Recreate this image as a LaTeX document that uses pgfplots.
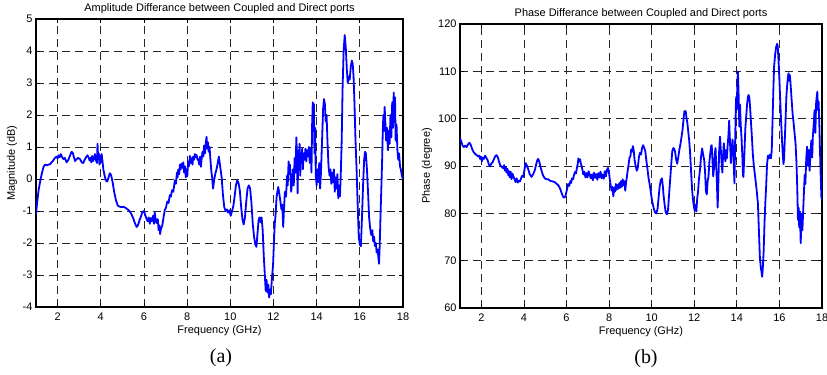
\documentclass[border=0pt]{standalone}
\usepackage{pgfplots}
\pgfplotsset{compat=1.18}
\usepackage{fontspec}
\setmainfont{Liberation Sans}
\newfontfamily\timesfont{Liberation Serif}
\definecolor{mblue}{RGB}{0,0,255}
\pgfplotsset{
  mstyle/.style={
    scale only axis,
    xmin=1, xmax=18,
    xtick={2,4,...,18},
    tick align=inside,
    major tick length=4bp,
    grid=major,
    major grid style={dash pattern=on 8bp off 5bp, black!85, line width=0.7bp},
    axis line style={line width=1.2bp, black},
    tick style={black, line width=0.7bp},
    /pgf/number format/assume math mode=true,
    tick label style={font=\fontsize{11}{13}\selectfont},
    xticklabel style={yshift=-2.5bp},
    label style={font=\fontsize{11}{13}\selectfont},
    title style={font=\fontsize{11}{13}\selectfont, at={(0.5,1)}, anchor=south, yshift=-1bp, inner sep=0pt},
    xlabel style={at={(axis description cs:0.5,0)}, anchor=center, yshift=-24bp},
    xlabel={Frequency (GHz)},
  }
}
\begin{document}
\begin{tikzpicture}
\useasboundingbox (0,0) rectangle (827bp,375bp);
\begin{axis}[mstyle,
  at={(36bp,68bp)}, anchor=south west,
  width=367bp, height=288bp,
  ymin=-4, ymax=5, ytick={-4,-3,...,5},
  title={Amplitude Differance between Coupled and Direct ports},
  ylabel={Magnitude (dB)},
  ylabel style={at={(axis description cs:0,0.5)}, anchor=center, yshift=24bp},
]
\addplot[mblue, line width=1.8bp, line join=round] coordinates {
(1.00,-1.10) (1.05,-0.75) (1.12,-0.35) (1.20,-0.05) (1.28,0.20) (1.35,0.38) (1.42,0.45) (1.50,0.43) (1.58,0.45) (1.65,0.46)
(1.72,0.52) (1.80,0.58) (1.88,0.66) (1.95,0.70) (2.00,0.64) (2.05,0.74) (2.10,0.68) (2.15,0.78) (2.20,0.70) (2.27,0.62)
(2.33,0.66) (2.42,0.52) (2.50,0.60) (2.58,0.74) (2.65,0.85) (2.70,0.82) (2.75,0.70) (2.81,0.56) (2.88,0.62) (2.95,0.66)
(3.04,0.62) (3.12,0.52) (3.19,0.50) (3.25,0.60) (3.32,0.68) (3.38,0.74) (3.42,0.70) (3.48,0.58) (3.52,0.66) (3.56,0.52)
(3.60,0.72) (3.64,0.56) (3.68,0.62) (3.73,0.78) (3.78,0.58) (3.82,0.50) (3.85,1.10) (3.88,0.62) (3.91,0.80) (3.94,0.45)
(3.97,0.72) (4.01,0.52) (4.04,0.78) (4.08,0.55) (4.12,0.30) (4.18,0.10) (4.24,-0.05) (4.30,-0.08) (4.36,0.05) (4.42,0.18)
(4.48,0.12) (4.55,-0.10) (4.62,-0.40) (4.70,-0.65) (4.78,-0.82) (4.85,-0.86) (4.95,-0.88) (5.05,-0.87) (5.15,-0.90) (5.25,-0.95)
(5.33,-1.00) (5.42,-1.10) (5.50,-1.22) (5.58,-1.38) (5.66,-1.50) (5.72,-1.45) (5.80,-1.28) (5.86,-1.18) (5.92,-1.05) (6.00,-1.00)
(6.06,-1.12) (6.12,-1.25) (6.17,-1.32) (6.22,-1.20) (6.27,-1.40) (6.32,-1.22) (6.37,-1.32) (6.42,-1.15) (6.47,-1.40) (6.50,-1.05)
(6.55,-1.30) (6.60,-1.38) (6.64,-1.25) (6.68,-1.60) (6.72,-1.45) (6.75,-1.72) (6.79,-1.55) (6.85,-1.45) (6.92,-1.15) (6.97,-0.96)
(7.02,-0.90) (7.08,-0.70) (7.14,-0.75) (7.20,-0.50) (7.25,-0.55) (7.30,-0.35) (7.36,-0.40) (7.43,-0.05) (7.48,-0.15) (7.53,0.20)
(7.56,0.05) (7.59,0.30) (7.63,0.15) (7.67,0.45) (7.70,0.30) (7.74,0.48) (7.78,0.35) (7.82,0.52) (7.86,0.20) (7.90,0.40)
(7.94,0.05) (7.97,0.30) (8.01,0.10) (8.05,0.55) (8.09,0.40) (8.13,0.72) (8.17,0.50) (8.21,0.65) (8.25,0.45) (8.28,0.70)
(8.32,0.60) (8.36,0.78) (8.40,0.68) (8.44,0.75) (8.48,0.60) (8.52,0.62) (8.56,0.45) (8.60,0.70) (8.64,0.38) (8.67,0.60)
(8.71,0.85) (8.75,0.70) (8.79,1.05) (8.83,0.80) (8.87,1.15) (8.90,1.32) (8.93,0.95) (8.96,1.15) (9.00,0.85) (9.04,1.00)
(9.08,0.60) (9.12,0.25) (9.16,0.05) (9.20,-0.30) (9.25,-0.05) (9.30,0.15) (9.36,0.30) (9.42,0.50) (9.47,0.70) (9.50,0.55)
(9.55,0.30) (9.60,0.05) (9.66,-0.50) (9.72,-0.88) (9.78,-1.00) (9.84,-0.95) (9.90,-1.05) (9.96,-0.98) (10.02,-1.15) (10.08,-1.00)
(10.14,-0.85) (10.20,-0.55) (10.26,-0.20) (10.32,-0.05) (10.38,-0.12) (10.44,-0.35) (10.50,-0.85) (10.56,-1.25) (10.62,-1.42) (10.68,-1.20)
(10.74,-0.70) (10.80,-0.30) (10.86,-0.20) (10.92,-0.30) (10.98,-0.75) (11.04,-1.40) (11.10,-1.80) (11.16,-2.05) (11.21,-2.12) (11.26,-1.70)
(11.31,-1.30) (11.35,-1.20) (11.40,-1.35) (11.45,-1.20) (11.50,-1.60) (11.55,-2.40) (11.60,-3.00) (11.64,-3.50) (11.68,-3.15) (11.72,-3.55)
(11.76,-3.30) (11.80,-3.70) (11.84,-3.45) (11.88,-3.60) (11.93,-3.10) (11.98,-2.70) (12.02,-2.00) (12.06,-1.40) (12.10,-1.10) (12.14,-0.60)
(12.18,-0.40) (12.22,-0.25) (12.27,-0.45) (12.32,-0.70) (12.37,-0.95) (12.41,-0.80) (12.45,-1.50) (12.49,-0.90) (12.53,-0.40) (12.58,-0.55)
(12.63,0.10) (12.66,-0.20) (12.70,0.55) (12.73,0.30) (12.76,0.45) (12.79,0.05) (12.82,-0.40) (12.86,-0.10) (12.90,0.30) (12.94,-0.20)
(12.98,0.65) (13.02,0.20) (13.06,1.30) (13.09,0.70) (13.12,-0.45) (13.15,0.90) (13.18,0.35) (13.21,1.10) (13.24,0.10) (13.27,0.80)
(13.30,0.50) (13.33,0.95) (13.36,0.30) (13.40,0.80) (13.44,0.60) (13.48,0.95) (13.52,0.55) (13.56,0.90) (13.60,0.70) (13.64,1.00)
(13.68,0.50) (13.72,0.95) (13.76,0.20) (13.79,1.70) (13.82,2.40) (13.84,1.50) (13.87,2.35) (13.90,0.80) (13.93,1.60) (13.96,0.10)
(14.00,-0.20) (14.04,0.30) (14.08,-0.10) (14.12,0.50) (14.16,-0.30) (14.20,0.20) (14.25,1.20) (14.30,2.20) (14.34,2.50) (14.38,2.35)
(14.42,1.80) (14.46,2.00) (14.50,1.20) (14.55,0.40) (14.60,0.10) (14.64,0.30) (14.68,-0.15) (14.72,0.20) (14.76,-0.10) (14.80,0.30)
(14.84,-0.40) (14.88,0.05) (14.92,-0.30) (14.96,0.15) (15.00,-0.60) (15.04,-0.20) (15.08,-0.55) (15.12,0.20) (15.16,1.20) (15.20,2.80)
(15.25,4.00) (15.30,4.50) (15.35,4.10) (15.40,3.40) (15.44,3.00) (15.48,3.20) (15.53,3.10) (15.58,3.50) (15.63,3.70) (15.67,3.60)
(15.71,3.20) (15.75,2.40) (15.80,1.20) (15.85,0.30) (15.90,-0.80) (15.95,-1.80) (16.00,-2.05) (16.05,-2.10) (16.10,-1.20) (16.15,-0.20)
(16.20,0.60) (16.24,0.85) (16.28,0.80) (16.33,0.30) (16.38,-0.40) (16.43,-1.20) (16.48,-1.55) (16.53,-1.75) (16.58,-1.60) (16.62,-1.95)
(16.66,-1.80) (16.70,-2.10) (16.74,-2.00) (16.78,-2.30) (16.82,-2.20) (16.86,-2.45) (16.89,-2.65) (16.92,-2.10) (16.96,-1.10) (17.00,-0.20)
(17.03,0.50) (17.06,1.40) (17.09,2.00) (17.12,1.50) (17.15,2.25) (17.18,1.80) (17.22,1.20) (17.26,1.60) (17.30,0.90) (17.34,1.50)
(17.38,1.10) (17.42,2.00) (17.46,1.30) (17.50,2.40) (17.54,1.60) (17.57,2.70) (17.60,1.90) (17.63,2.55) (17.66,1.20) (17.70,1.70)
(17.74,0.90) (17.78,0.60) (17.82,0.80) (17.86,0.40) (17.90,0.30) (17.95,0.10) (18.00,0.00)
};
\end{axis}
\begin{axis}[mstyle,
  at={(460bp,67bp)}, anchor=south west,
  width=362bp, height=284bp,
  ymin=60, ymax=120, ytick={60,70,...,120},
  title={Phase Differance between Coupled and Direct ports},
  ylabel={Phase (degree)},
  ylabel style={at={(axis description cs:0,0.5)}, anchor=center, yshift=33bp},
]
\addplot[mblue, line width=1.8bp, line join=round] coordinates {
(1.00,95.8) (1.06,95.2) (1.12,94.3) (1.18,94.0) (1.25,94.3) (1.31,94.0) (1.38,94.6) (1.44,94.9) (1.50,94.5) (1.57,93.6)
(1.63,93.0) (1.70,92.6) (1.78,92.3) (1.85,92.0) (1.90,92.2) (1.94,91.5) (1.98,92.0) (2.03,91.0) (2.07,91.8) (2.12,91.5)
(2.18,92.2) (2.25,91.6) (2.30,91.2) (2.35,90.4) (2.41,89.9) (2.47,90.5) (2.53,90.8) (2.60,91.5) (2.66,92.1) (2.72,92.3)
(2.78,91.8) (2.84,90.8) (2.90,90.1) (2.96,89.8) (3.03,89.5) (3.07,90.2) (3.11,89.0) (3.15,89.8) (3.19,88.6) (3.23,89.4)
(3.27,88.0) (3.31,88.9) (3.34,87.6) (3.38,88.8) (3.42,87.2) (3.46,88.4) (3.50,87.9) (3.56,87.2) (3.61,86.6) (3.66,87.4)
(3.71,86.5) (3.76,86.9) (3.81,86.7) (3.86,87.3) (3.91,87.9) (3.97,87.7) (4.02,89.0) (4.08,90.6) (4.13,90.2) (4.20,89.4)
(4.27,88.3) (4.36,87.7) (4.44,88.3) (4.52,89.2) (4.58,90.4) (4.63,91.2) (4.67,91.5) (4.72,91.0) (4.78,89.8) (4.83,89.0)
(4.90,88.0) (4.98,87.4) (5.06,87.2) (5.14,87.2) (5.22,86.9) (5.30,86.8) (5.38,86.7) (5.45,86.6) (5.52,86.3) (5.60,86.0)
(5.66,85.6) (5.72,85.0) (5.78,84.2) (5.84,83.5) (5.90,83.3) (5.95,83.6) (6.02,85.0) (6.08,86.2) (6.13,85.8) (6.18,86.8)
(6.22,86.4) (6.26,87.4) (6.31,87.2) (6.36,88.2) (6.41,88.8) (6.45,88.4) (6.49,89.6) (6.53,90.5) (6.56,91.6) (6.60,91.0)
(6.64,91.4) (6.67,90.6) (6.71,90.0) (6.75,89.2) (6.79,88.2) (6.84,88.8) (6.89,87.6) (6.94,88.5) (6.99,87.6) (7.04,88.9)
(7.09,88.2) (7.14,87.4) (7.19,88.2) (7.24,87.0) (7.29,88.6) (7.35,87.5) (7.40,88.3) (7.45,87.1) (7.50,88.5) (7.55,87.6)
(7.60,88.8) (7.65,87.4) (7.70,88.2) (7.75,87.3) (7.80,88.9) (7.85,87.8) (7.90,89.2) (7.95,89.6) (8.00,88.5) (8.04,87.0)
(8.08,85.8) (8.12,84.8) (8.16,85.6) (8.20,83.6) (8.24,85.4) (8.28,84.6) (8.32,86.2) (8.36,85.0) (8.40,86.0) (8.44,85.2)
(8.48,86.4) (8.52,85.4) (8.56,86.8) (8.60,85.6) (8.64,87.2) (8.68,86.0) (8.72,86.8) (8.76,84.8) (8.80,86.6) (8.84,87.8)
(8.88,89.2) (8.92,90.4) (8.96,91.8) (9.00,92.0) (9.04,93.5) (9.08,93.0) (9.12,94.2) (9.16,93.2) (9.20,91.2) (9.25,90.0)
(9.30,89.0) (9.35,89.6) (9.40,91.8) (9.45,92.8) (9.50,92.4) (9.55,93.8) (9.60,94.4) (9.65,93.8) (9.70,93.2) (9.75,91.2)
(9.80,89.5) (9.85,87.6) (9.90,86.3) (9.95,84.8) (10.00,83.2) (10.05,82.0) (10.10,81.0) (10.16,80.2) (10.22,80.0) (10.28,81.0)
(10.33,83.5) (10.38,85.8) (10.43,87.0) (10.48,87.4) (10.52,86.0) (10.56,83.8) (10.61,81.8) (10.66,80.2) (10.72,79.8) (10.77,80.8)
(10.82,84.0) (10.88,87.8) (10.93,91.0) (10.97,93.2) (11.02,93.8) (11.06,93.6) (11.10,93.0) (11.15,91.4) (11.20,90.5) (11.25,91.8)
(11.30,93.4) (11.35,94.6) (11.40,96.0) (11.45,97.6) (11.50,100.0) (11.54,101.6) (11.57,101.2) (11.60,101.6) (11.64,100.0) (11.68,99.0)
(11.72,97.2) (11.76,95.5) (11.80,93.2) (11.85,89.0) (11.90,85.0) (11.94,83.0) (11.98,81.5) (12.02,80.6) (12.06,81.8) (12.10,80.4)
(12.14,83.2) (12.18,84.6) (12.22,87.2) (12.27,89.2) (12.32,92.0) (12.37,93.7) (12.42,92.4) (12.47,91.2) (12.51,88.6) (12.55,84.6)
(12.59,84.0) (12.63,86.8) (12.67,87.8) (12.71,90.8) (12.75,92.6) (12.79,94.2) (12.82,94.4) (12.86,91.0) (12.89,87.8) (12.93,89.6)
(12.97,92.6) (13.00,93.8) (13.03,90.4) (13.06,87.0) (13.10,81.2) (13.13,86.0) (13.17,93.2) (13.21,96.2) (13.24,94.0) (13.28,91.2)
(13.32,88.6) (13.35,92.0) (13.39,94.8) (13.42,93.0) (13.46,91.0) (13.50,93.4) (13.53,91.6) (13.57,94.4) (13.61,96.8) (13.64,99.6)
(13.68,95.0) (13.72,90.6) (13.76,93.8) (13.80,95.6) (13.84,92.0) (13.87,88.6) (13.89,86.3) (13.92,95.0) (13.95,102.0) (13.97,104.6)
(14.00,102.0) (14.03,108.0) (14.05,110.0) (14.08,106.0) (14.10,101.0) (14.12,98.3) (14.15,103.0) (14.18,99.0) (14.22,96.0) (14.26,92.0)
(14.29,88.0) (14.31,87.7) (14.35,92.0) (14.40,98.0) (14.44,100.4) (14.48,103.0) (14.52,104.6) (14.55,105.0) (14.59,104.4) (14.62,102.6)
(14.67,98.8) (14.71,96.0) (14.75,92.6) (14.80,90.0) (14.86,87.7) (14.92,85.4) (14.99,82.1) (15.04,76.0) (15.08,71.0) (15.12,68.8)
(15.16,67.6) (15.19,66.6) (15.22,68.4) (15.26,72.0) (15.30,78.0) (15.34,82.4) (15.38,86.0) (15.42,90.4) (15.46,92.2) (15.50,91.6)
(15.55,92.4) (15.60,91.6) (15.64,93.2) (15.68,100.0) (15.72,106.8) (15.75,111.0) (15.80,113.6) (15.85,115.2) (15.89,115.8) (15.92,115.4)
(15.96,112.0) (16.00,108.2) (16.04,103.6) (16.08,99.4) (16.11,96.6) (16.15,93.0) (16.19,90.4) (16.22,91.6) (16.26,96.4) (16.30,101.2)
(16.33,105.0) (16.37,107.4) (16.40,108.8) (16.43,109.6) (16.46,108.0) (16.49,109.2) (16.52,107.6) (16.57,104.2) (16.62,101.0) (16.66,99.4)
(16.71,97.0) (16.76,94.6) (16.80,90.8) (16.84,85.0) (16.87,78.6) (16.90,81.2) (16.93,77.0) (16.96,80.4) (17.00,73.7) (17.04,79.8)
(17.08,76.4) (17.12,81.0) (17.16,85.4) (17.19,88.2) (17.22,86.2) (17.26,91.6) (17.30,94.1) (17.34,90.0) (17.38,93.4) (17.42,89.0)
(17.46,93.0) (17.50,95.4) (17.54,91.8) (17.57,96.2) (17.61,98.8) (17.65,101.8) (17.69,97.0) (17.72,103.0) (17.75,104.6) (17.78,105.7)
(17.81,101.8) (17.84,103.6) (17.87,99.6) (17.90,94.0) (17.94,87.6) (17.97,83.6) (18.00,82.8)
};
\end{axis}
\node[font=\timesfont\fontsize{20}{22}\selectfont] at (221bp,17bp) {(a)};
\node[font=\timesfont\fontsize{20}{22}\selectfont] at (646bp,16bp) {(b)};
\end{tikzpicture}
\end{document}
